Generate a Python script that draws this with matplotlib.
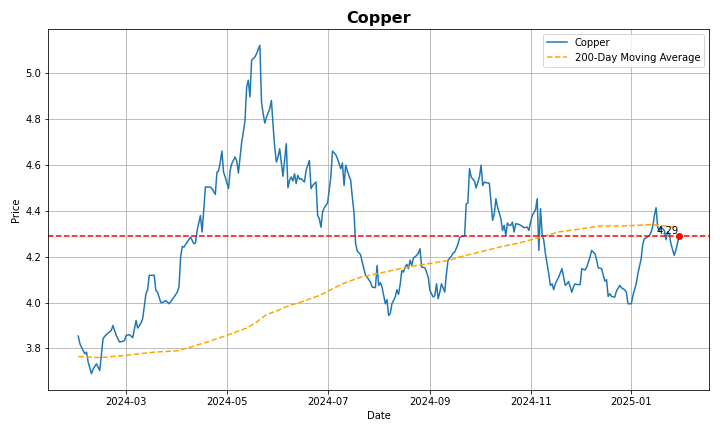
import matplotlib
matplotlib.use("Agg")
import matplotlib.pyplot as plt
import matplotlib.dates as mdates
import pandas as pd

start_date = "2024-02-01"

price_days = [0, 1, 3, 4, 5, 6, 8, 9, 11, 12, 13, 15, 16, 18, 20, 21, 22, 23, 25, 27, 28, 29, 31, 33, 35, 36, 38, 39,
              41, 42, 43, 44, 46, 47, 48, 50, 51, 53, 55, 58, 60, 61, 62, 63,
              64, 66, 68, 70, 71, 72, 74, 75, 76, 77, 80, 81, 83, 84, 85, 86, 87, 88, 89, 91, 92, 93, 95, 96, 97, 99,
              100, 101, 102, 103, 104, 105, 107, 108, 110, 111, 112, 113, 114, 116, 117, 118, 119, 120, 121, 122, 124,
              125, 126, 127, 128, 129, 130, 131, 132, 133, 134, 135, 137, 138, 140, 141, 142, 144, 145, 146, 147, 148,
              149, 151, 153, 154, 156, 157, 159, 160, 161, 162, 163, 165, 166, 167, 168, 169, 171, 172, 174, 175, 177,
              178, 180, 181, 182, 183, 184, 185, 186, 187, 188, 189, 190, 192, 193, 194, 195, 196, 197, 198, 199, 200,
              201, 202, 203, 205, 206, 207, 208, 210, 212, 213, 215, 216, 217, 218, 219, 220, 222, 223, 224, 226, 227,
              228, 230, 231, 232, 234, 235, 236, 237, 238, 240, 241, 243, 244, 245, 246, 247, 249, 251, 252, 253, 254,
              256, 257, 258, 259, 260, 261, 262, 263, 264, 265, 267, 268, 270, 272, 273, 274, 275, 277, 278, 279, 280,
              281, 282, 283, 285, 286, 287, 288, 289, 291, 293, 294, 295, 296, 297, 299, 300, 301, 302, 304, 305, 307,
              308, 310, 311, 313, 314, 315, 317, 319, 320, 321, 322, 323, 325, 326, 328, 329, 331, 332, 333, 335, 336,
              338, 339, 341, 342, 343, 344, 346, 347, 348, 349, 350, 351, 352, 353, 355, 356, 357, 358, 359, 361, 362,
              363, 364]

price_values = [3.854, 3.82, 3.79, 3.777, 3.784, 3.74, 3.69, 3.71, 3.733, 3.718, 3.704, 3.842, 3.853, 3.867, 3.879, 3.90,
                3.879, 3.857, 3.828, 3.831, 3.835, 3.857, 3.86, 3.847, 3.922, 3.889, 3.911, 3.93,
                4.039, 4.056, 4.119, 4.119, 4.119, 4.053, 4.046, 4.0, 4.0, 4.009, 3.995, 4.024, 4.046, 4.068, 4.199, 4.245,
                4.242, 4.264, 4.286, 4.257, 4.26, 4.315, 4.38, 4.308, 4.402, 4.504, 4.504, 4.497, 4.472, 4.569, 4.574,
                4.613, 4.661, 4.569, 4.548, 4.497, 4.577, 4.606, 4.635, 4.617, 4.565, 4.70,
                4.744, 4.795, 4.94, 4.97, 4.897, 5.057, 5.071, 5.086, 5.122, 4.875, 4.824, 4.783, 4.809, 4.846, 4.882,
                4.773, 4.678, 4.613, 4.635, 4.671, 4.551,
                4.62, 4.693, 4.501, 4.533, 4.548, 4.53, 4.562, 4.519, 4.555, 4.538, 4.541, 4.526, 4.577, 4.62, 4.497,
                4.511, 4.526, 4.38, 4.366, 4.329, 4.395,
                4.414, 4.434, 4.548, 4.661, 4.645, 4.628, 4.584, 4.609, 4.511, 4.599, 4.574, 4.533, 4.46, 4.395, 4.257,
                4.225, 4.209, 4.177, 4.119, 4.111, 4.089,
                4.068, 4.065, 4.162, 4.075, 4.087, 4.068, 4.031, 3.995, 4.013, 3.944, 3.952, 3.995, 4.024, 4.056, 4.036,
                4.079, 4.14, 4.133, 4.155, 4.167, 4.148,
                4.185, 4.162, 4.194, 4.206, 4.216, 4.235, 4.155, 4.152, 4.111, 4.053, 4.024, 4.031, 4.082, 4.017, 4.045,
                4.082, 4.046, 4.125, 4.185, 4.202, 4.216,
                4.22, 4.254, 4.283, 4.289, 4.289, 4.431, 4.434, 4.584, 4.548, 4.53, 4.50, 4.548, 4.599, 4.511, 4.526,
                4.523, 4.521, 4.359, 4.388, 4.453, 4.417,
                4.366, 4.315, 4.337, 4.293, 4.347, 4.337, 4.337, 4.351, 4.308, 4.344, 4.341, 4.337, 4.327, 4.329, 4.315,
                4.351, 4.38, 4.405, 4.453, 4.228, 4.41,
                4.30, 4.271, 4.213, 4.126, 4.075, 4.082, 4.056, 4.082, 4.111, 4.148, 4.111, 4.075, 4.082, 4.092, 4.045,
                4.07, 4.082, 4.079, 4.078, 4.148, 4.142,
                4.155, 4.199, 4.228, 4.213, 4.185, 4.152, 4.148, 4.094, 4.1, 4.027, 4.039, 4.027, 4.024, 4.05, 4.075,
                4.065, 4.056, 4.046, 3.995, 3.995, 4.031,
                4.082, 4.126, 4.192, 4.257, 4.279, 4.282, 4.293, 4.308, 4.332, 4.38, 4.414, 4.329, 4.315, 4.329, 4.315,
                4.274, 4.308, 4.30, 4.257, 4.206, 4.228,
                4.26, 4.29]

ma_days = [0, 13, 29, 46, 60, 68, 78, 90, 102, 108, 114, 120, 128, 134, 146, 154, 160, 171, 181, 195, 205, 215,
           225, 231, 243, 255, 267, 279, 291, 303, 316, 328, 338, 347, 356, 363]
ma_values = [3.765, 3.76, 3.77, 3.784, 3.79, 3.806, 3.828, 3.857, 3.889, 3.915, 3.948, 3.963, 3.988, 4.0, 4.031,
             4.06, 4.082, 4.111, 4.126, 4.148, 4.162, 4.173, 4.185, 4.199, 4.22, 4.242, 4.26, 4.283, 4.308, 4.32,
             4.334, 4.334, 4.337, 4.34, 4.334, 4.327]

t0 = pd.Timestamp(start_date)
price_dates = t0 + pd.to_timedelta(price_days, unit="D")
ma_dates = t0 + pd.to_timedelta(ma_days, unit="D")

last_price = price_values[-1]
last_date = price_dates[-1]

fig, ax = plt.subplots(figsize=(10, 6), dpi=72)
fig.subplots_adjust(left=0.067, right=0.985, bottom=0.097, top=0.933)

ax.plot(price_dates, price_values, label="Copper", color="#1f77b4", linewidth=1.5)
ax.plot(ma_dates, ma_values, label="200-Day Moving Average", color="orange", linestyle="--", linewidth=1.5)
ax.axhline(last_price, color="red", linestyle="--", linewidth=1.5)
ax.plot([last_date], [last_price], "o", color="red", markersize=6)
ax.text(last_date, last_price, f"{last_price:.2f}", ha="right", va="bottom", fontsize=10)

ax.set_title("Copper", fontsize=16, fontweight="bold")
ax.set_xlabel("Date")
ax.set_ylabel("Price")
ax.grid(True)
ax.legend(loc="upper right")
ax.xaxis.set_major_formatter(mdates.DateFormatter("%Y-%m"))

fig.savefig("out.png")
